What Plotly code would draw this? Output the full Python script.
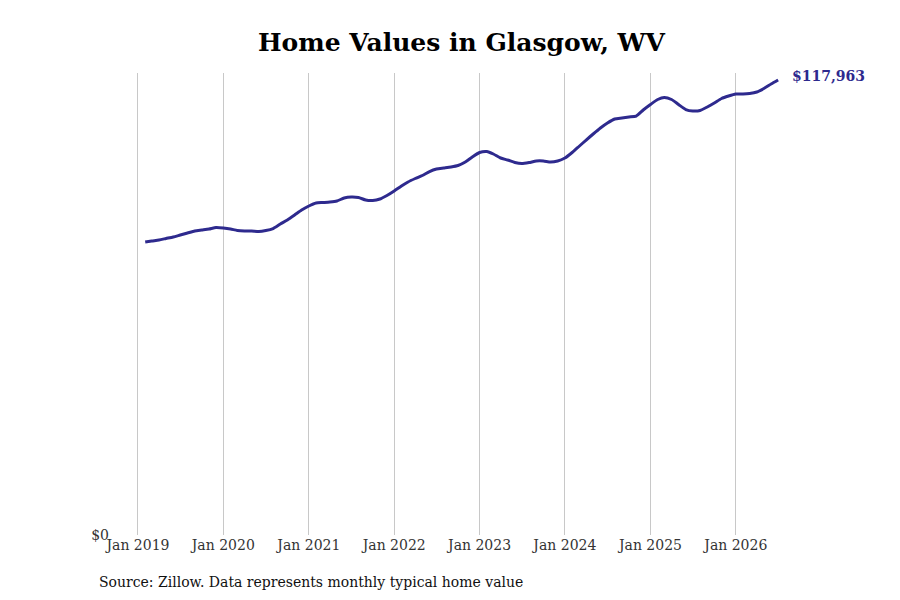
import pandas as pd
import plotly.graph_objects as go

# monthly typical home value, Glasgow WV
months = pd.date_range("2019-02-01", "2026-07-01", freq="MS")
values = [
    75963, 76222, 76482, 76871, 77259, 77778, 78297, 78815, 79074, 79334, 79722,
    79593, 79334, 78945, 78815, 78815, 78685, 78945, 79463, 80630, 81667, 82963, 84260,
    85297, 86074, 86204, 86334, 86593, 87371, 87630, 87500, 86852, 86722, 87111, 88019,
    89185, 90482, 91519, 92426, 93204, 94241, 94889, 95148, 95408, 95796, 96704, 98000,
    99167, 99426, 98778, 97741, 97223, 96574, 96315, 96574, 96963, 96963, 96704, 96963,
    97741, 99167, 100723, 102408, 103963, 105519, 106815, 107852, 108111, 108371, 108630, 110186,
    111612, 112908, 113426, 112908, 111612, 110315, 109926, 110056, 110963, 112000, 113167, 113815,
    114334, 114334, 114464, 114852, 115760, 116926, 117963,
]
last_label = "$117,963"
title = "Home Values in Glasgow, WV"
source = "Source: Zillow. Data represents monthly typical home value"

line_color = "#2E2A8E"

fig = go.Figure()
fig.add_trace(go.Scatter(
    x=months, y=values, mode="lines",
    line=dict(color=line_color, width=3, shape="spline", smoothing=0.6),
    hoverinfo="skip",
))

fig.add_annotation(
    x=months[-1], y=values[-1], text="<b>" + last_label + "</b>",
    showarrow=False, xanchor="left", xshift=12, yshift=4,
    font=dict(family="DejaVu Serif", size=14, color=line_color),
)

# source line under the axis, placed in paper units (plot area 112..780 x 73..535)
fig.add_annotation(
    x=(97 - 112) / 668, y=(535 - 582) / 462, xref="paper", yref="paper",
    text=source, showarrow=False, xanchor="left", yanchor="middle",
    font=dict(family="DejaVu Serif", size=14, color="#111111"),
)

fig.update_layout(
    width=900, height=600,
    paper_bgcolor="white", plot_bgcolor="white",
    margin=dict(l=112, r=120, t=73, b=65),
    showlegend=False,
    title=dict(
        text="<b>" + title + "</b>", x=461.5 / 900, xanchor="center", y=0.93, yanchor="middle",
        font=dict(family="DejaVu Serif", size=25, color="black"),
    ),
    font=dict(family="DejaVu Serif", size=14, color="#333333"),
)
fig.update_xaxes(
    range=["2018-09-12", "2026-07-09"],
    dtick="M12", tick0="2019-01-01", tickformat="%b %Y",
    showgrid=True, gridcolor="#c8c8c8", gridwidth=1,
    showline=False, zeroline=False, ticks="",
    tickfont=dict(family="DejaVu Serif", size=14, color="#333333"),
)
fig.update_yaxes(
    range=[0, 119780], tickvals=[0], ticktext=["$0"],
    showgrid=False, zeroline=False, showline=False, ticks="",
    tickfont=dict(family="DejaVu Serif", size=14, color="#333333"),
    ticklabelstandoff=2,
)

# drop the default 8px page margin so the figure sits at the window's corner
fig.write_html(
    "out.html",
    config={"displayModeBar": False},
    post_script="document.body.style.margin='0';",
)
